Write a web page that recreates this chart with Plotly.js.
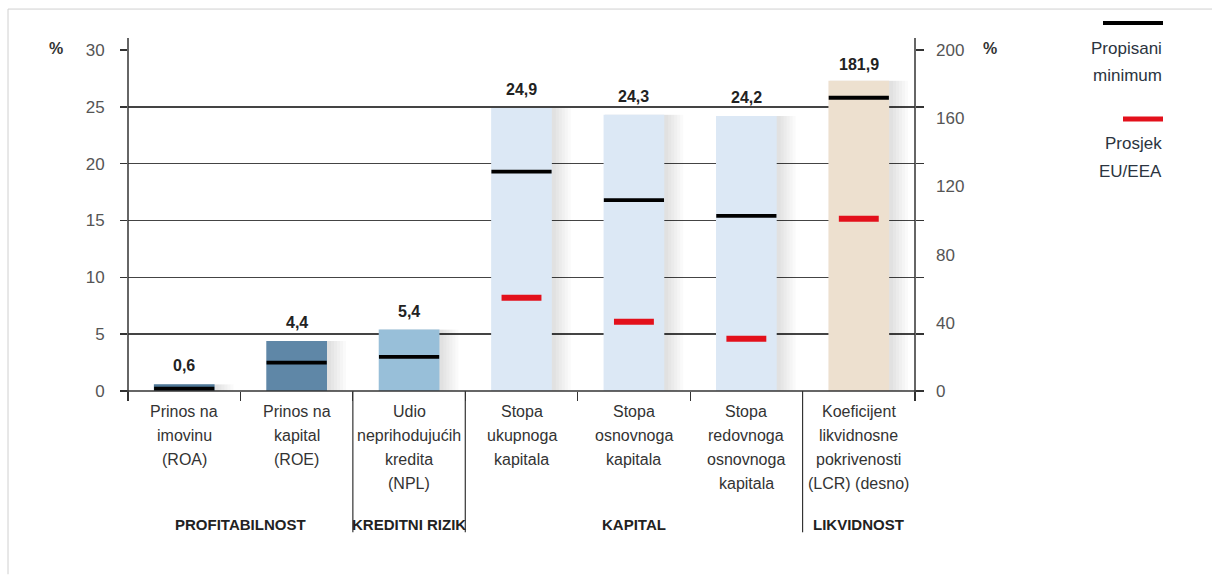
<!DOCTYPE html>
<html>
<head>
<meta charset="utf-8">
<script src="https://cdn.plot.ly/plotly-3.0.1.min.js"></script>
<style>html,body{margin:0;padding:0;background:#fff;}#chart{width:1212px;height:575px;}</style>
</head>
<body>
<div id="chart"></div>
<script>
// ---- data ----
const categories = [
  "Prinos na<br>imovinu<br>(ROA)",
  "Prinos na<br>kapital<br>(ROE)",
  "Udio<br>neprihodujućih<br>kredita<br>(NPL)",
  "Stopa<br>ukupnoga<br>kapitala",
  "Stopa<br>osnovnoga<br>kapitala",
  "Stopa<br>redovnoga<br>osnovnoga<br>kapitala",
  "Koeficijent<br>likvidnosne<br>pokrivenosti<br>(LCR) (desno)"
];
const leftValues = [0.6, 4.4, 5.4, 24.9, 24.3, 24.2];      // left axis (%)
const rightValue = [181.9];                                 // LCR, right axis (%)
const minimumLeft = [0.2, 2.5, 3.0, 19.3, 16.8, 15.4];      // Propisani minimum
const minimumRight = [172];
const euAvgCats = [3, 4, 5];
const euAvgLeft = [8.2, 6.1, 4.6];                          // Prosjek EU/EEA
const euAvgRight = [101];
const barColors = ["#4f7898", "#5f87a7", "#98bfd9", "#dce8f5", "#dce8f5", "#dce8f5"];
const lcrColor = "#ede0cf";
const groups = ["PROFITABILNOST", "KREDITNI RIZIK", "KAPITAL", "LIKVIDNOST"];
const groupCenters = [0.5, 2, 4, 6];
const separators = [1.5, 2.5, 5.5];
const leftTicks = [0, 5, 10, 15, 20, 25, 30];
const rightTicks = [0, 40, 80, 120, 160, 200];

const FONT = "'Liberation Sans Narrow', 'Arial Narrow', 'Liberation Sans', Arial, sans-serif";
const catKeys = categories.map((c, i) => c);
const leftCats = catKeys.slice(0, 6);
const lcrCat = [catKeys[6]];
const BW = 0.54;
const PX = 7 / 787; // category units per pixel

const traces = [];
// soft shadows
[3, 6, 9, 12, 15, 18].forEach(s => {
  traces.push({type: 'bar', x: leftCats, y: leftValues, yaxis: 'y', width: BW + s * PX, offset: -BW / 2 + 1 * PX,
    marker: {color: 'rgba(0,0,0,0.018)', line: {width: 0}}, hoverinfo: 'skip', showlegend: false});
  traces.push({type: 'bar', x: lcrCat, y: rightValue, yaxis: 'y2', width: BW + s * PX, offset: -BW / 2 + 1 * PX,
    marker: {color: 'rgba(0,0,0,0.018)', line: {width: 0}}, hoverinfo: 'skip', showlegend: false});
});
traces.push({type: 'bar', x: leftCats, y: leftValues, yaxis: 'y', width: BW, offset: -BW / 2,
  marker: {color: barColors, line: {width: 0}}, hoverinfo: 'skip', showlegend: false});
traces.push({type: 'bar', x: lcrCat, y: rightValue, yaxis: 'y2', width: BW, offset: -BW / 2,
  marker: {color: lcrColor, line: {width: 0}}, hoverinfo: 'skip', showlegend: false});
// minimum lines (line-ew length = 1.4 * size)
const minMarker = {symbol: 'line-ew', size: 43, color: '#000', line: {color: '#000', width: 3.8}};
traces.push({type: 'scatter', mode: 'markers', x: leftCats, y: minimumLeft, yaxis: 'y', marker: minMarker, hoverinfo: 'skip', showlegend: false, cliponaxis: false});
traces.push({type: 'scatter', mode: 'markers', x: lcrCat, y: minimumRight, yaxis: 'y2', marker: minMarker, hoverinfo: 'skip', showlegend: false});
// EU average
const avgMarker = {symbol: 'line-ew', size: 28.5, color: '#e3101b', line: {color: '#e3101b', width: 6}};
traces.push({type: 'scatter', mode: 'markers', x: euAvgCats.map(i => catKeys[i]), y: euAvgLeft, yaxis: 'y', marker: avgMarker, hoverinfo: 'skip', showlegend: false});
traces.push({type: 'scatter', mode: 'markers', x: lcrCat, y: euAvgRight, yaxis: 'y2', marker: avgMarker, hoverinfo: 'skip', showlegend: false});
// invisible trace for right tick marks
traces.push({type: 'scatter', mode: 'none', x: leftCats, y: leftValues, yaxis: 'y3', hoverinfo: 'skip', showlegend: false});

const annotations = [];
const fmt = v => v.toFixed(1).replace('.', ',');
leftValues.forEach((v, i) => annotations.push({x: catKeys[i], y: v, yref: 'y', text: '<b>' + fmt(v) + '</b>', showarrow: false,
  yanchor: 'bottom', yshift: 8, font: {family: FONT, size: 16, color: '#222'}}));
rightValue.forEach((v) => annotations.push({x: catKeys[6], y: v, yref: 'y2', text: '<b>' + fmt(v) + '</b>', showarrow: false,
  yanchor: 'bottom', yshift: 6, font: {family: FONT, size: 16, color: '#222'}}));
// category labels, line by line
categories.forEach((c, i) => {
  c.split('<br>').forEach((line, j) => annotations.push({x: i, xref: 'x', y: 0, yref: 'paper', text: line, showarrow: false,
    yanchor: 'middle', yshift: -20.5 - 24 * j, font: {family: FONT, size: 16, color: '#333'}}));
});
groups.forEach((g, i) => annotations.push({x: groupCenters[i], xref: 'x', y: 0, yref: 'paper', text: '<b>' + g + '</b>', showarrow: false,
  yanchor: 'middle', yshift: -133, font: {family: FONT, size: 15, color: '#222'}}));
// % unit labels
annotations.push({x: -72 / 787, xref: 'paper', xanchor: 'center', y: 1, yref: 'paper', text: '<b>%</b>', showarrow: false, yanchor: 'middle', yshift: 2,
  font: {family: FONT, size: 16, color: '#333'}});
annotations.push({x: 1 + 75 / 787, xref: 'paper', xanchor: 'center', y: 1, yref: 'paper', text: '<b>%</b>', showarrow: false, yanchor: 'middle', yshift: 2,
  font: {family: FONT, size: 16, color: '#333'}});
// legend
const legendText = [["Propisani", 48], ["minimum", 76], ["Prosjek", 144], ["EU/EEA", 172]];
legendText.forEach(t => annotations.push({x: (1164 - 128) / 787, xref: 'paper', xanchor: 'right', y: (391.5 - t[1]) / 341.5, yref: 'paper',
  yanchor: 'middle', text: t[0], showarrow: false, font: {family: FONT, size: 17, color: '#2b3440'}}));

const shapes = [];
separators.forEach(s => shapes.push({type: 'line', xref: 'x', x0: s, x1: s, yref: 'paper', y0: 0, y1: (391.5 - 533) / 341.5,
  line: {color: '#333', width: 1.2}}));
// axis extensions
shapes.push({type: 'line', xref: 'paper', x0: 0, x1: 0, yref: 'paper', y0: -0.028, y1: 1.035, line: {color: '#333', width: 1.5}});
shapes.push({type: 'line', xref: 'paper', x0: 1, x1: 1, yref: 'paper', y0: -0.028, y1: 1.035, line: {color: '#333', width: 1.5}});
shapes.push({type: 'line', xref: 'paper', x0: -8 / 787, x1: 1 + 8 / 787, yref: 'paper', y0: 0, y1: 0, line: {color: '#333', width: 1.5}});
// legend swatches
shapes.push({type: 'line', xref: 'paper', x0: (1103 - 128) / 787, x1: (1163 - 128) / 787, yref: 'paper', y0: (391.5 - 23) / 341.5, y1: (391.5 - 23) / 341.5,
  line: {color: '#000', width: 4}});
shapes.push({type: 'line', xref: 'paper', x0: (1123 - 128) / 787, x1: (1163 - 128) / 787, yref: 'paper', y0: (391.5 - 119) / 341.5, y1: (391.5 - 119) / 341.5,
  line: {color: '#e3101b', width: 5}});
// page frame
shapes.push({type: 'line', xref: 'paper', x0: (8 - 128) / 787, x1: (1212 - 128) / 787, yref: 'paper', y0: (391.5 - 9) / 341.5, y1: (391.5 - 9) / 341.5,
  line: {color: '#d0d0d0', width: 1}});
shapes.push({type: 'line', xref: 'paper', x0: (8 - 128) / 787, x1: (8 - 128) / 787, yref: 'paper', y0: (391.5 - 9) / 341.5, y1: (391.5 - 575) / 341.5,
  line: {color: '#d0d0d0', width: 1}});

const layout = {
  width: 1212, height: 575,
  margin: {l: 128, r: 297, t: 50, b: 183.5, pad: 0},
  paper_bgcolor: '#fff', plot_bgcolor: 'rgba(0,0,0,0)',
  barmode: 'overlay', showlegend: false,
  font: {family: FONT, color: '#333'},
  xaxis: {type: 'category', categoryorder: 'array', categoryarray: catKeys, range: [-0.5, 6.5],
    showticklabels: false, ticks: 'outside', tickson: 'boundaries', ticklen: 9, tickwidth: 1.2, tickcolor: '#333',
    showline: false, showgrid: false, zeroline: false, fixedrange: true},
  yaxis: {range: [0, 30], tickvals: leftTicks, ticks: 'outside', ticklen: 7, tickwidth: 1.5, tickcolor: '#333',
    showgrid: true, gridcolor: '#444', gridwidth: 1.5, zeroline: false, showline: false,
    tickfont: {family: FONT, size: 17, color: '#555'}, ticklabelstandoff: 12, fixedrange: true},
  yaxis2: {range: [0, 200], tickvals: rightTicks, overlaying: 'y', side: 'right', ticks: '', showgrid: false,
    zeroline: false, showline: false, tickfont: {family: FONT, size: 17, color: '#555'}, ticklabelstandoff: 20, fixedrange: true},
  yaxis3: {range: [0, 30], tickvals: leftTicks, overlaying: 'y', side: 'right', ticks: 'outside', ticklen: 8, tickwidth: 1.5,
    tickcolor: '#333', showticklabels: false, showgrid: false, zeroline: false, showline: false, fixedrange: true},
  annotations: annotations,
  shapes: shapes
};
Plotly.newPlot('chart', traces, layout, {displayModeBar: false, staticPlot: true});
</script>
</body>
</html>
